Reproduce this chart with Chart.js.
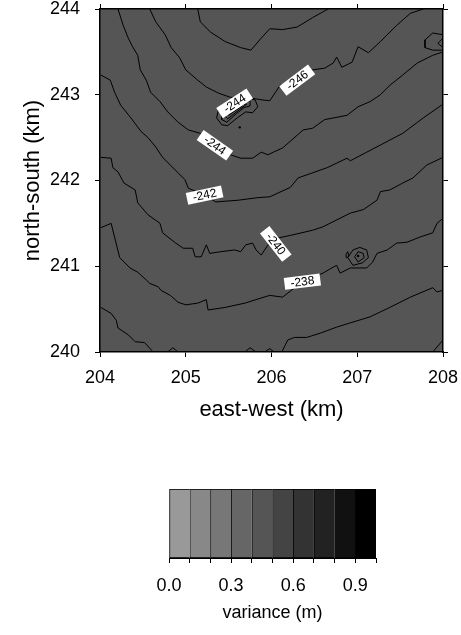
<!DOCTYPE html>
<html>
<head>
<meta charset="utf-8">
<script src="https://cdn.jsdelivr.net/npm/chart.js@4"></script>
<style>
  body { margin: 0; background: #fff; }
  canvas { display: block; }
</style>
</head>
<body>
<canvas id="chart" width="461" height="440"></canvas>
<canvas id="scale" width="461" height="195"></canvas>
<script>
// axis ranges (km)
const xRange = [204, 208];
const yRange = [240, 244];

// contour lines, [east-west, north-south] in km
const contour246 = [[204.58,244.00],[204.65,243.85],[204.76,243.70],[204.83,243.55],[204.93,243.43],[205.00,243.29],[205.14,243.17],[205.24,243.09],[205.38,243.02],[205.52,242.97],[205.71,242.97],[205.89,242.94],[205.98,242.93],[206.10,243.11],[206.30,243.17],[206.48,243.29],[206.62,243.31],[206.72,243.37],[206.76,243.44],[206.82,243.32],[206.94,243.38],[207.01,243.56],[207.13,243.49],[207.27,243.62],[207.46,243.81],[207.62,243.95],[207.77,244.00]];
const contour248 = [[205.14,244.00],[205.17,243.85],[205.29,243.73],[205.46,243.62],[205.64,243.55],[205.76,243.52],[205.88,243.66],[205.98,243.77],[206.13,243.76],[206.30,243.79],[206.48,243.90],[206.66,244.00]];
const contour244 = [[204.21,244.00],[204.27,243.81],[204.33,243.66],[204.38,243.56],[204.44,243.46],[204.47,243.29],[204.54,243.17],[204.59,243.03],[204.70,242.92],[204.79,242.80],[204.91,242.68],[205.03,242.59],[205.17,242.55],[205.35,242.41],[205.52,242.30],[205.64,242.26],[205.78,242.26],[205.88,242.33],[205.96,242.30],[206.02,242.33],[206.13,242.38],[206.37,242.59],[206.48,242.61],[206.62,242.71],[206.88,242.76],[207.01,242.86],[207.15,242.92],[207.27,243.00],[207.38,243.11],[207.53,243.23],[207.70,243.37],[207.88,243.46],[208.00,243.50]];
const contour242 = [[204.01,243.23],[204.12,243.17],[204.17,243.03],[204.24,242.88],[204.36,242.73],[204.48,242.57],[204.56,242.50],[204.65,242.39],[204.73,242.27],[204.82,242.18],[204.91,242.09],[204.99,242.01],[205.03,241.91],[205.22,241.83],[205.35,241.75],[205.61,241.77],[205.84,241.80],[205.98,241.81],[206.22,241.92],[206.31,242.03],[206.65,242.15],[206.88,242.26],[206.92,242.23],[207.11,242.33],[207.53,242.55],[207.77,242.73],[208.00,242.89]];
const contour240 = [[204.01,242.27],[204.13,242.26],[204.15,242.15],[204.21,242.10],[204.28,241.97],[204.41,241.89],[204.44,241.74],[204.56,241.60],[204.70,241.50],[204.73,241.39],[204.87,241.28],[204.97,241.21],[205.08,241.21],[205.11,241.11],[205.18,241.11],[205.24,241.25],[205.28,241.15],[205.41,241.17],[205.57,241.19],[205.64,241.17],[205.70,241.25],[205.78,241.27],[205.82,241.19],[205.88,241.13],[205.96,241.25],[206.08,241.33],[206.22,241.36],[206.48,241.42],[206.60,241.46],[206.92,241.62],[207.07,241.66],[207.23,241.77],[207.27,241.87],[207.38,241.89],[207.53,241.97],[207.65,242.03],[207.81,242.18],[208.00,242.27]];
const contour238 = [[204.01,241.45],[204.13,241.50],[204.17,241.34],[204.23,241.10],[204.35,240.98],[204.44,240.93],[204.54,240.84],[204.58,240.80],[204.68,240.76],[204.71,240.72],[204.82,240.66],[204.91,240.58],[205.00,240.55],[205.14,240.57],[205.24,240.61],[205.26,240.49],[205.46,240.52],[205.69,240.57],[205.88,240.63],[205.98,240.66],[206.13,240.64],[206.36,240.82],[206.60,240.92],[206.72,240.99],[206.76,241.01],[206.80,240.92],[206.92,240.98],[207.03,240.98],[207.11,240.98],[207.18,241.05],[207.23,241.15],[207.35,241.19],[207.46,241.27],[207.58,241.28],[207.73,241.34],[207.88,241.39],[207.93,241.50],[208.00,241.56]];
const contour236West = [[204.01,240.52],[204.13,240.45],[204.19,240.37],[204.21,240.28],[204.33,240.20],[204.41,240.12],[204.52,240.11],[204.62,240.00]];
const contour236East = [[206.12,240.00],[206.19,240.14],[206.27,240.17],[206.41,240.17],[206.57,240.22],[206.76,240.29],[206.92,240.34],[207.15,240.41],[207.38,240.52],[207.62,240.64],[207.88,240.75],[207.93,240.70],[208.00,240.72]];
const edgeBumps = [
  [[204.79,240.00],[204.85,240.05],[204.91,240.00]],
  [[205.69,240.00],[205.75,240.05],[205.82,240.00]],
  [[205.92,240.00],[205.98,240.04],[206.03,240.00]],
  [[207.88,240.00],[208.00,240.14]]
];

// closed pits and bumps
const pitNorthEast = [
  [[208.00,243.70],[207.88,243.72],[207.79,243.64],[207.79,243.55],[207.88,243.52],[208.00,243.52]],
  [[208.00,243.66],[207.94,243.60],[208.00,243.55]]
];
const pitCentre = [
  [[205.38,242.82],[205.36,242.73],[205.42,242.65],[205.49,242.64],[205.60,242.73],[205.70,242.80],[205.78,242.79],[205.84,242.86],[205.81,242.94],[205.71,242.96],[205.54,242.94],[205.38,242.82]],
  [[205.42,242.78],[205.42,242.71],[205.48,242.68],[205.59,242.78],[205.68,242.85],[205.75,242.87],[205.75,242.93],[205.63,242.93],[205.42,242.78]],
  [[205.46,242.75],[205.49,242.72],[205.63,242.83],[205.71,242.89],[205.61,242.89],[205.46,242.75]],
  [[205.50,242.76],[205.66,242.87],[205.59,242.86],[205.50,242.76]]
];
const bumpEast = [
  [[206.89,241.10],[206.95,241.19],[207.03,241.22],[207.11,241.19],[207.13,241.10],[207.06,241.04],[206.95,241.01],[206.89,241.10]],
  [[206.97,241.11],[207.01,241.17],[207.07,241.15],[207.08,241.10],[207.01,241.05],[206.97,241.11]],
  [[206.87,241.14],[206.89,241.17],[206.90,241.12],[206.88,241.10],[206.87,241.14]]
];
const spotPoints = [[205.63,242.62],[207.01,241.12]];

// contour labels: text, position (km), rotation (deg)
const labelText = ['-244', '-246', '-244', '-242', '-240', '-238'];
const labelX = [205.57, 206.30, 205.34, 205.22, 206.05, 206.36];
const labelY = [242.90, 243.17, 242.41, 241.83, 241.26, 240.82];
const labelAngle = [-33, -37, 35, -12, 52, -7];

// variance colour scale
const binEdges = [0.0, 0.1, 0.2, 0.3, 0.4, 0.5, 0.6, 0.7, 0.8, 0.9, 1.0];
const binColors = ['#999999', '#888888', '#777777', '#666666', '#555555', '#444444', '#333333', '#222222', '#111111', '#000000'];
const scaleTickLabels = [0.0, 0.3, 0.6, 0.9];
const fieldBin = 4;

Chart.defaults.font.family = "'Liberation Sans', Arial, sans-serif";
Chart.defaults.color = '#000';

const contours = [contour248, contour246, contour244, contour242, contour240, contour238,
  contour236West, contour236East, ...edgeBumps, ...pitNorthEast, ...pitCentre, ...bumpEast];

const lineSets = contours.map(pts => ({
  data: pts,
  showLine: true,
  borderColor: '#000',
  borderWidth: 1,
  pointRadius: 0,
  tension: 0,
  fill: false
}));
lineSets.push({ data: spotPoints, showLine: false, pointRadius: 1.2, pointBackgroundColor: '#000', pointBorderWidth: 0 });

const fieldFill = {
  id: 'fieldFill',
  beforeDraw(chart) {
    const a = chart.chartArea;
    chart.ctx.save();
    chart.ctx.fillStyle = binColors[fieldBin];
    chart.ctx.fillRect(a.left, a.top, a.right - a.left, a.bottom - a.top);
    chart.ctx.restore();
  }
};

const contourLabels = {
  id: 'contourLabels',
  afterDatasetsDraw(chart) {
    const ctx = chart.ctx;
    const xs = chart.scales.x, ys = chart.scales.y;
    ctx.save();
    ctx.font = "12px 'Liberation Sans', Arial, sans-serif";
    ctx.textAlign = 'center';
    ctx.textBaseline = 'middle';
    labelText.forEach((t, i) => {
      const w = ctx.measureText(t).width + 12;
      ctx.save();
      ctx.translate(xs.getPixelForValue(labelX[i]), ys.getPixelForValue(labelY[i]));
      ctx.rotate(labelAngle[i] * Math.PI / 180);
      ctx.fillStyle = '#fff';
      ctx.fillRect(-w / 2, -6, w, 12);
      ctx.fillStyle = '#000';
      ctx.fillText(t, 0, 0.5);
      ctx.restore();
    });
    ctx.restore();
  }
};

const tickMarks = { drawOnChartArea: false, drawTicks: true, tickLength: 5, color: '#000', lineWidth: 1 };
const frame = { color: '#000', width: 1.5 };

// fixed box sizes so the plot sits where it should, with no label overhang padding
function fixSize(w, h) {
  return s => {
    if (w !== null) s.width = w;
    if (h !== null) s.height = h;
    s.paddingLeft = s.paddingRight = s.paddingTop = s.paddingBottom = 0;
  };
}

new Chart(document.getElementById('chart'), {
  type: 'scatter',
  data: { datasets: lineSets },
  options: {
    responsive: false,
    animation: false,
    layout: { padding: 0 },
    plugins: { legend: { display: false }, tooltip: { enabled: false } },
    scales: {
      x: {
        type: 'linear', position: 'bottom', min: xRange[0], max: xRange[1],
        ticks: { stepSize: 1, padding: 10, maxRotation: 0, font: { size: 18 } },
        grid: tickMarks, border: frame,
        title: { display: true, text: 'east-west (km)', font: { size: 22 }, padding: { top: 0, bottom: 17 } },
        afterFit: fixSize(null, 88)
      },
      x2: {
        type: 'linear', position: 'top', min: xRange[0], max: xRange[1],
        ticks: { stepSize: 1, display: false },
        grid: tickMarks, border: frame,
        afterFit: fixSize(null, 9)
      },
      y: {
        type: 'linear', position: 'left', min: yRange[0], max: yRange[1],
        ticks: { stepSize: 1, padding: 15, font: { size: 18 } },
        grid: tickMarks, border: frame,
        title: { display: true, text: 'north-south (km)', font: { size: 22 }, padding: { top: 20, bottom: 0 } },
        afterFit: fixSize(100, null)
      },
      y2: {
        type: 'linear', position: 'right', min: yRange[0], max: yRange[1],
        ticks: { stepSize: 1, display: false },
        grid: tickMarks, border: frame,
        afterFit: fixSize(18, null)
      }
    }
  },
  plugins: [fieldFill, contourLabels]
});

// colour bar for the variance field
new Chart(document.getElementById('scale'), {
  type: 'bar',
  data: {
    labels: ['variance'],
    datasets: binColors.map((c, i) => ({
      data: [[binEdges[i], binEdges[i + 1]]],
      backgroundColor: c,
      borderColor: '#000',
      borderWidth: { top: 1, bottom: 1, left: 1, right: i === binColors.length - 1 ? 1 : 0 },
      borderSkipped: false,
      grouped: false,
      barPercentage: 1,
      categoryPercentage: 1
    }))
  },
  options: {
    indexAxis: 'y',
    responsive: false,
    animation: false,
    layout: { padding: { left: 169, right: 85, top: 49, bottom: 0 } },
    plugins: { legend: { display: false }, tooltip: { enabled: false } },
    scales: {
      x: {
        type: 'linear', min: binEdges[0], max: binEdges[binEdges.length - 1],
        ticks: {
          stepSize: 0.1, autoSkip: false, maxRotation: 0, minRotation: 0, padding: 12, font: { size: 18 },
          callback: v => scaleTickLabels.some(t => Math.abs(t - v) < 1e-9) ? v.toFixed(1) : ''
        },
        grid: tickMarks, border: { color: '#000', width: 1 },
        title: { display: true, text: 'variance (m)', font: { size: 18 }, padding: { top: 0, bottom: 11 } },
        afterFit: fixSize(null, 77)
      },
      y: { display: false }
    }
  }
});
</script>
</body>
</html>
